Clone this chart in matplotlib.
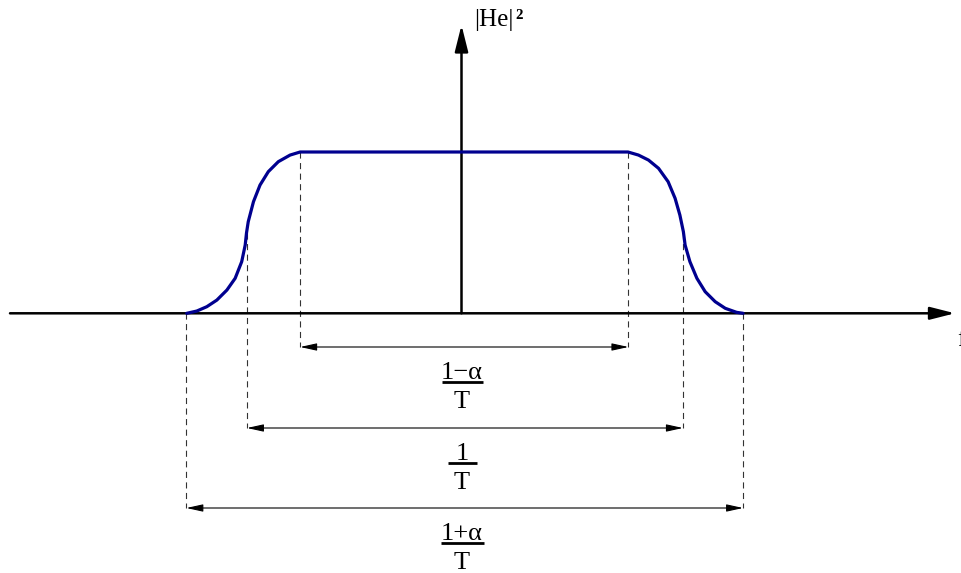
import matplotlib
matplotlib.use("Agg")
import matplotlib.pyplot as plt
from matplotlib.patches import FancyArrowPatch, ArrowStyle

# ---- data (frequency in units of 1/T, |He|^2 normalised to 1) ----
curve_f = [-0.637, -0.614, -0.591, -0.568, -0.545, -0.526, -0.511, -0.503, -0.500,
           -0.496, -0.484, -0.469, -0.450, -0.427, -0.400, -0.377,
           0.375, 0.399, 0.422, 0.445, 0.467, 0.483, 0.494, 0.502, 0.506,
           0.517, 0.533, 0.552, 0.575, 0.598, 0.624, 0.639]
curve_h = [0.000, 0.014, 0.041, 0.082, 0.144, 0.217, 0.320, 0.423, 0.498,
           0.568, 0.692, 0.795, 0.878, 0.940, 0.981, 1.000,
           1.000, 0.981, 0.950, 0.899, 0.816, 0.713, 0.609, 0.506, 0.423,
           0.320, 0.217, 0.134, 0.072, 0.031, 0.006, 0.000]

band_left = [-0.377, -0.499, -0.638]
band_right = [0.376, 0.501, 0.639]
band_level = [1.0, 0.5, 0.0]
band_numer = ["1\u2212\u03b1", "1", "1+\u03b1"]
band_denom = ["T", "T", "T"]
y_label = "|He|\u00b2"
x_label = "f"

# ---- layout ----
W, H = 961, 573
X0, Y0, SX, SY = 464.5, 313.3, 436.0, 161.3   # pixel origin / scale


def fx(px):
    return (px - X0) / SX


def hy(py):
    return (Y0 - py) / SY


fig = plt.figure(figsize=(W / 100, H / 100), dpi=100)
ax = fig.add_axes([0, 0, 1, 1])
ax.set_xlim(fx(0), fx(W))
ax.set_ylim(hy(H), hy(0))
ax.axis("off")

serif = ["Liberation Serif", "DejaVu Serif"]

# axes arrows
ax.add_patch(FancyArrowPatch((fx(10), 0), (fx(955), 0),
                             arrowstyle=ArrowStyle("-|>", head_length=15, head_width=3.8),
                             mutation_scale=1, shrinkA=0, shrinkB=0,
                             lw=1.8, color="black", zorder=3))
ax.add_patch(FancyArrowPatch((fx(461.5), 0), (fx(461.5), hy(25)),
                             arrowstyle=ArrowStyle("-|>", head_length=16, head_width=4.0),
                             mutation_scale=1, shrinkA=0, shrinkB=0,
                             lw=1.8, color="black", zorder=3))
ax.text(fx(474), hy(26), "|He|", fontsize=18, family=serif, ha="left", va="baseline")
ax.text(fx(515), hy(26), "\u00b2", fontsize=18, family=serif, fontweight="bold",
        ha="left", va="baseline")
ax.text(fx(957), hy(346), x_label, fontsize=18, family=serif, ha="left", va="baseline")

# curve
ax.plot(curve_f, curve_h, color="#00008f", lw=2.3, solid_joinstyle="round",
        solid_capstyle="round", zorder=4)

# dimension bands
arrow_rows = [347, 428, 508]
bar_widths = [41, 29, 43]
cx = fx(462)
for i in range(3):
    ya = hy(arrow_rows[i])
    for xe in (band_left[i], band_right[i]):
        ax.plot([xe, xe], [band_level[i], ya], color="#333333", lw=0.8,
                dashes=(5.5, 4), zorder=2)
    ax.add_patch(FancyArrowPatch((band_left[i], ya), (band_right[i], ya),
                                 arrowstyle=ArrowStyle("<|-|>", head_length=10, head_width=2.2),
                                 mutation_scale=1, shrinkA=0, shrinkB=0,
                                 lw=0.8, color="black", zorder=3))
    bar_py = arrow_rows[i] + 34.5
    ax.plot([cx - bar_widths[i] / 2 / SX, cx + bar_widths[i] / 2 / SX],
            [hy(bar_py), hy(bar_py)], color="black", lw=2.0, solid_capstyle="butt")
    ax.text(cx, hy(bar_py - 2.5), band_numer[i], fontsize=19, family=serif,
            ha="center", va="baseline")
    ax.text(cx, hy(bar_py + 26.5), band_denom[i], fontsize=19, family=serif,
            ha="center", va="baseline")

fig.savefig("out.png", dpi=100)
